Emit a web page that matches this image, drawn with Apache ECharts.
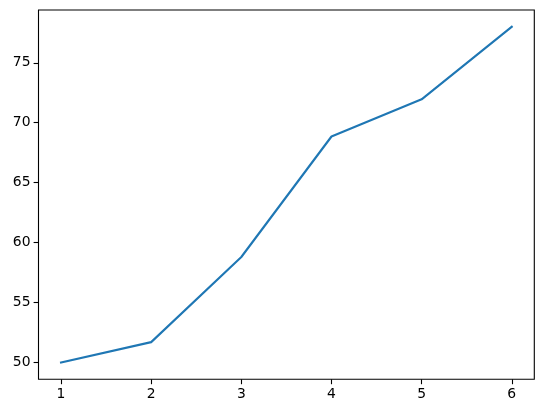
<!DOCTYPE html>
<html>
<head>
<meta charset="utf-8">
<script src="https://cdn.jsdelivr.net/npm/echarts@6/dist/echarts.min.js"></script>
<style>html,body{margin:0;padding:0;background:#fff}#c{width:543px;height:413px}</style>
</head>
<body>
<div id="c"></div>
<script>
const xValues = [1, 2, 3, 4, 5, 6];
const yValues = [50.0, 51.7, 58.8, 68.85, 71.95, 78.0];
const xTicks = [1, 2, 3, 4, 5, 6];
const yTicks = [50, 55, 60, 65, 70, 75];

const chart = echarts.init(document.getElementById('c'), null, {renderer: 'canvas'});
const font = 'DejaVu Sans';
chart.setOption({
  animation: false,
  grid: {left: 38.5, right: 8.7, top: 10, bottom: 33.7, show: true, borderColor: '#000', borderWidth: 1.1, backgroundColor: 'transparent'},
  xAxis: {
    type: 'value', min: 0.75, max: 6.25,
    axisLine: {show: false},
    splitLine: {show: false},
    axisTick: {show: true, length: 4.9, lineStyle: {color: '#000', width: 1.1}, customValues: xTicks},
    axisLabel: {customValues: xTicks, color: '#000', fontFamily: font, fontSize: 13.9, margin: 8}
  },
  yAxis: {
    type: 'value', min: 48.6, max: 79.4,
    axisLine: {show: false},
    splitLine: {show: false},
    axisTick: {show: true, length: 4.9, lineStyle: {color: '#000', width: 1.1}, customValues: yTicks},
    axisLabel: {customValues: yTicks, color: '#000', fontFamily: font, fontSize: 13.9, margin: 8}
  },
  series: [{
    type: 'line',
    data: xValues.map((x, i) => [x, yValues[i]]),
    showSymbol: false,
    lineStyle: {color: '#1f77b4', width: 2.1, cap: 'square', join: 'round'}
  }]
});
</script>
</body>
</html>
